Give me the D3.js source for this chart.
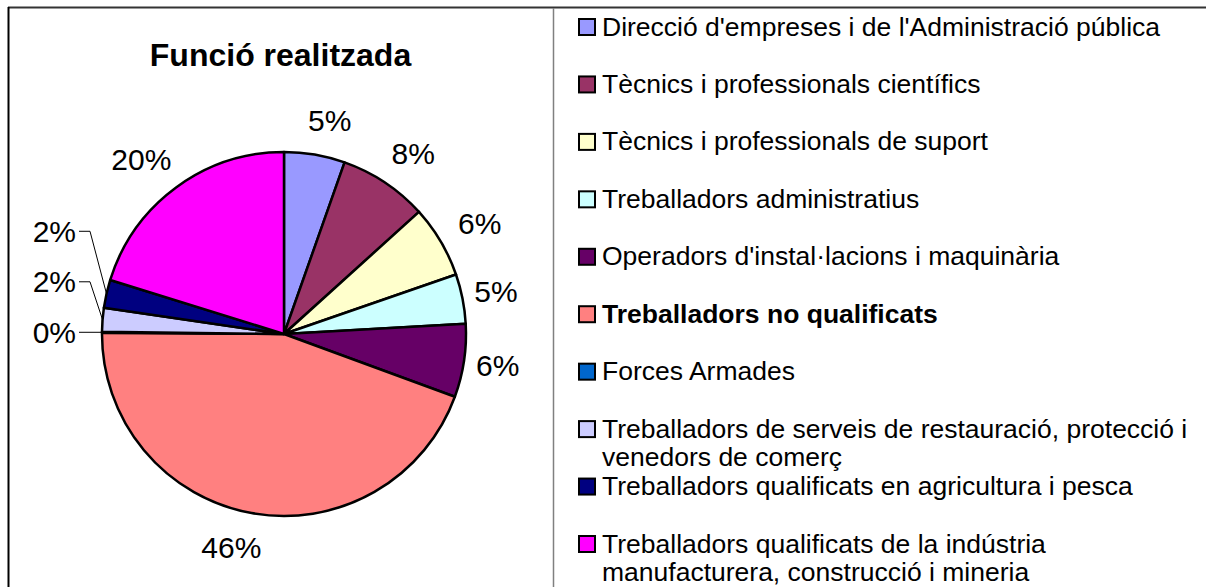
<!DOCTYPE html>
<html>
<head>
<meta charset="utf-8">
<script src="https://cdn.jsdelivr.net/npm/d3@7"></script>
<style>
  body { margin: 0; background: #fff; }
  text { font-family: "Liberation Sans", Arial, sans-serif; fill: #000; }
</style>
</head>
<body>
<svg width="1206" height="587"></svg>
<script>
(function (d3) {
  'use strict';

  const title = 'Funció realitzada';

  const categories = [
    "Direcció d'empreses i de l'Administració pública",
    'Tècnics i professionals científics',
    'Tècnics i professionals de suport',
    'Treballadors administratius',
    "Operadors d'instal·lacions i maquinària",
    'Treballadors no qualificats',
    'Forces Armades',
    'Treballadors de serveis de restauració, protecció i\nvenedors de comerç',
    'Treballadors qualificats en agricultura i pesca',
    'Treballadors qualificats de la indústria\nmanufacturera, construcció i mineria'
  ];

  // share of each slice (percent)
  const values = [5.4, 7.9, 6.4, 4.4, 6.5, 44.5, 0.1, 2.1, 2.5, 20.2];

  // percentage labels as printed on the chart
  const pctLabels = ['5%', '8%', '6%', '5%', '6%', '46%', '0%', '2%', '2%', '20%'];

  const colors = ['#9999FF', '#993366', '#FFFFCC', '#CCFFFF', '#660066',
                  '#FF8080', '#0066CC', '#CCCCFF', '#000080', '#FF00FF'];

  const boldItem = 'Treballadors no qualificats';

  const svg = d3.select('svg');

  // frame
  svg.append('line').attr('x1', 8).attr('x2', 1206).attr('y1', 7.5).attr('y2', 7.5)
    .attr('stroke', '#333').attr('stroke-width', 2);
  svg.append('line').attr('x1', 8.5).attr('x2', 8.5).attr('y1', 7).attr('y2', 587)
    .attr('stroke', '#000').attr('stroke-width', 2);
  svg.append('line').attr('x1', 553.5).attr('x2', 553.5).attr('y1', 8).attr('y2', 587)
    .attr('stroke', '#808080').attr('stroke-width', 1.5);

  svg.append('text')
    .attr('x', 280.5).attr('y', 66)
    .attr('text-anchor', 'middle')
    .style('font-size', '32px').style('font-weight', 'bold')
    .text(title);

  const cx = 284, cy = 334, radius = 182;
  const g = svg.append('g').attr('transform', `translate(${cx},${cy})`);

  const data = categories.map((c, i) => ({ name: c, value: values[i], label: pctLabels[i], color: colors[i] }));

  const pie = d3.pie().value(d => d.value).sort(null);
  const arcs = pie(data);
  const arc = d3.arc().innerRadius(0).outerRadius(radius);
  const labelArc = d3.arc().innerRadius(radius + 35).outerRadius(radius + 35);
  const edgeArc = d3.arc().innerRadius(radius).outerRadius(radius);

  g.selectAll('path.slice')
    .data(arcs)
    .join('path')
      .attr('class', 'slice')
      .attr('d', arc)
      .attr('fill', d => d.data.color)
      .attr('stroke', '#000')
      .attr('stroke-width', 2.5)
      .attr('stroke-linejoin', 'round');

  // small slices on the left get stacked labels with leader lines
  const small = arcs.filter(d => d.value < 3);
  const big = arcs.filter(d => d.value >= 3);

  // labels drift a little sideways in the original, away from the vertical axis on the left
  const nudge = d => {
    const c = labelArc.centroid(d);
    const mid = (d.startAngle + d.endAngle) / 2;
    return [c[0] + (mid < Math.PI / 3 ? 9 : mid > Math.PI ? -14 : -1), c[1]];
  };

  g.selectAll('text.pct')
    .data(big)
    .join('text')
      .attr('class', 'pct')
      .attr('transform', d => `translate(${nudge(d)})`)
      .attr('text-anchor', 'middle')
      .attr('dominant-baseline', 'central')
      .style('font-size', '30px')
      .text(d => d.data.label);

  const baseY = edgeArc.centroid(small[0])[1];
  const labelX = -radius - 26;
  small.forEach((d, i) => {
    const ly = baseY - i * 50.5;
    const p = edgeArc.centroid(d);
    const pts = i === 0
      ? [[labelX + 3, ly], [p[0], ly]]
      : [[labelX + 3, ly], [labelX + 14, ly], p];
    g.append('path')
      .attr('d', d3.line()(pts))
      .attr('fill', 'none')
      .attr('stroke', '#000')
      .attr('stroke-width', 1);
    g.append('text')
      .attr('x', labelX).attr('y', ly)
      .attr('text-anchor', 'end')
      .attr('dominant-baseline', 'central')
      .style('font-size', '30px')
      .text(d.data.label);
  });

  // legend
  const rowY = d3.scaleLinear().domain([0, categories.length - 1]).range([26.5, 543.5]);
  const legend = svg.append('g').attr('transform', 'translate(579,0)');
  const item = legend.selectAll('g.item')
    .data(data)
    .join('g')
      .attr('class', 'item')
      .attr('transform', (d, i) => `translate(0,${rowY(i)})`);

  item.append('rect')
    .attr('x', 0).attr('y', -7.5)
    .attr('width', 16).attr('height', 16)
    .attr('fill', d => d.color)
    .attr('stroke', '#000')
    .attr('stroke-width', 2);

  item.each(function (d) {
    const lines = d.name.split('\n');
    const t = d3.select(this).append('text')
      .attr('x', 23)
      .attr('dominant-baseline', 'central')
      .style('font-size', '26.5px')
      .style('font-weight', d.name === boldItem ? 'bold' : 'normal');
    lines.forEach((l, j) => {
      t.append('tspan').attr('x', 23).attr('y', j * 28).text(l);
    });
  });

}(d3));
</script>
</body>
</html>
